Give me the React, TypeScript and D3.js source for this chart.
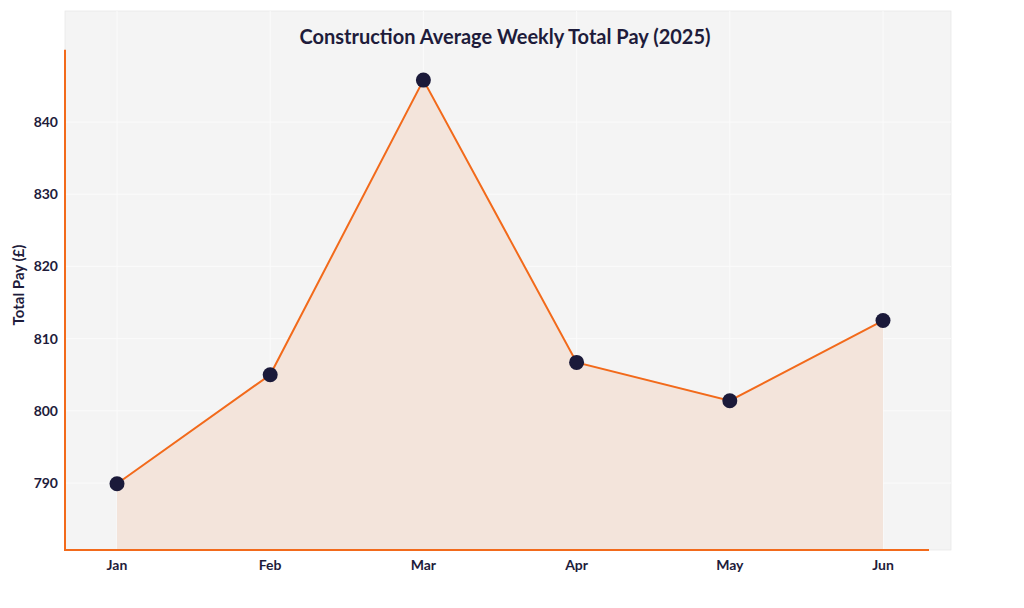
import React from 'react';
import * as d3 from 'd3';

const months = ['Jan', 'Feb', 'Mar', 'Apr', 'May', 'Jun'];
const totalPay = [789.9, 805.0, 845.8, 806.7, 801.4, 812.5];
const yTicks = [790, 800, 810, 820, 830, 840];

const W = 1024;
const H = 608;
const panel = { left: 65, right: 951, top: 11, bottom: 550 };

const App: React.FC = () => {
  const xScale = d3.scalePoint<string>()
    .domain(months)
    .range([117, 883]);

  const yScale = d3.scaleLinear()
    .domain([790, 840])
    .range([483, 122]);

  const data = months.map((m, i) => ({ m, v: totalPay[i] }));

  const line = d3.line<typeof data[0]>()
    .x(d => xScale(d.m) as number)
    .y(d => yScale(d.v));

  const area = d3.area<typeof data[0]>()
    .x(d => xScale(d.m) as number)
    .y0(panel.bottom)
    .y1(d => yScale(d.v));

  const textColor = '#1e1c3b';
  const orange = '#f26a1b';
  const font = 'Lato, "Noto Sans", sans-serif';

  return (
    <svg width={W} height={H} style={{ position: 'absolute', left: 0, top: 0, background: '#fff' }}>
      {/* panel */}
      <rect x={panel.left} y={panel.top} width={panel.right - panel.left} height={panel.bottom - panel.top}
        fill="#f4f4f4" stroke="#e8e8e8" strokeWidth={0.8} />

      {/* grid */}
      {yTicks.map(t => (
        <line key={t} x1={panel.left} x2={panel.right} y1={yScale(t)} y2={yScale(t)} stroke="#fbfbfb" strokeWidth={1} />
      ))}
      {months.map(m => (
        <line key={m} x1={xScale(m)} x2={xScale(m)} y1={panel.top} y2={panel.bottom} stroke="#fbfbfb" strokeWidth={1} />
      ))}

      {/* area + line */}
      <path d={area(data) as string} fill="#f3e4db" />
      <path d={line(data) as string} fill="none" stroke={orange} strokeWidth={2} />

      {/* axes */}
      <line x1={panel.left} x2={panel.left} y1={yScale(850)} y2={panel.bottom + 1} stroke={orange} strokeWidth={2} />
      <line x1={panel.left} x2={929} y1={panel.bottom} y2={panel.bottom} stroke={orange} strokeWidth={2} />

      {/* markers */}
      {data.map(d => (
        <circle key={d.m} cx={xScale(d.m)} cy={yScale(d.v)} r={7.5} fill="#1b1a3a" />
      ))}

      {/* y ticks */}
      {yTicks.map(t => (
        <text key={t} x={58} y={yScale(t)} dy="0.35em" textAnchor="end" fontFamily={font}
          fontWeight={700} fontSize={14} fill={textColor}>{t}</text>
      ))}

      {/* x ticks */}
      {months.map(m => (
        <text key={m} x={xScale(m)} y={570} textAnchor="middle" fontFamily={font}
          fontWeight={700} fontSize={14} fill={textColor}>{m}</text>
      ))}

      {/* y title */}
      <text transform={`translate(24,${285}) rotate(-90)`} textAnchor="middle" fontFamily={font}
        fontWeight={700} fontSize={15} fill={textColor}>Total Pay (£)</text>

      {/* title */}
      <text x={505} y={44} textAnchor="middle" fontFamily={font} fontWeight={700} fontSize={20}
        fill={textColor}>Construction Average Weekly Total Pay (2025)</text>
    </svg>
  );
};

export default App;
